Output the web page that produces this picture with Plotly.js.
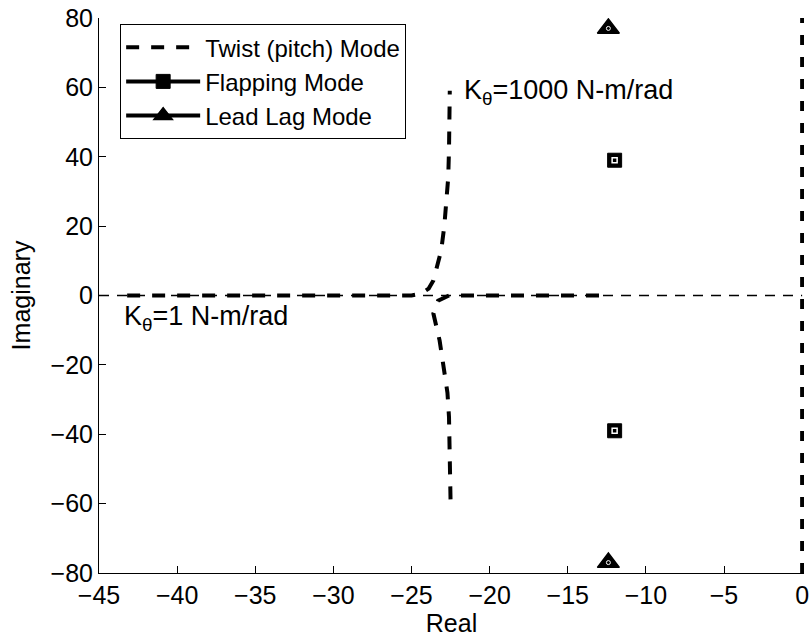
<!DOCTYPE html>
<html>
<head>
<meta charset="utf-8">
<script src="https://cdn.plot.ly/plotly-3.0.1.min.js"></script>
<style>html,body{margin:0;padding:0;background:#fff;}#plot{width:811px;height:639px;}</style>
</head>
<body>
<div id="plot"></div>
<script>
// Twist (pitch) mode root locus, branch starting on the left real axis and going up
const twistUpRe = [-43.2, -40, -35, -30, -27, -25, -24.4, -23.9, -23.6, -23.3, -23.1, -22.9, -22.75, -22.65, -22.6, -22.56, -22.55];
const twistUpIm = [0, 0, 0, 0, 0, 0, 0.5, 2, 4.3, 9, 13, 20, 27, 34, 42, 50, 59];
// branch coming along the real axis from the right and going down
const twistDnRe = [-13, -16, -19, -21, -22.6, -23.3, -23.6, -23.2, -22.95, -22.7, -22.6, -22.56, -22.5, -22.5];
const twistDnIm = [0, 0, 0, 0, 0, -1.5, -5.2, -13, -20.8, -28, -35, -42.7, -50.5, -59.2];
// Flapping mode poles
const flapRe = [-12.0, null, -12.0];
const flapIm = [39, null, -39];
// Lead lag mode poles
const lagRe = [-12.4, null, -12.4];
const lagIm = [77, null, -77];
// axis reference lines
const realAxisRe = [-45, 0];
const realAxisIm = [0, 0];
const imagAxisRe = [0, 0];
const imagAxisIm = [-80, 80];
// tick labels
const xTicks = [-45, -40, -35, -30, -25, -20, -15, -10, -5, 0];
const yTicks = [-80, -60, -40, -20, 0, 20, 40, 60, 80];

const FONT = 'Liberation Sans, Arial, Helvetica, sans-serif';
const DASH = '13px,12px';

const traces = [
  {x: realAxisRe, y: realAxisIm, mode: 'lines', line: {color: 'black', width: 1.5, dash: '10px,8px'}, showlegend: false, hoverinfo: 'skip'},
  {x: imagAxisRe, y: imagAxisIm, mode: 'lines', line: {color: 'black', width: 4, dash: '10px,12px'}, showlegend: false, hoverinfo: 'skip'},
  {x: twistUpRe, y: twistUpIm, mode: 'lines', name: 'Twist (pitch) Mode', line: {color: 'black', width: 4, dash: DASH}},
  {x: twistDnRe, y: twistDnIm, mode: 'lines', showlegend: false, line: {color: 'black', width: 4, dash: DASH}},
  {x: flapRe, y: flapIm, mode: 'lines+markers', name: 'Flapping Mode', connectgaps: false,
   line: {color: 'black', width: 4}, marker: {symbol: 'square', size: 14, color: 'black', line: {color: 'black', width: 1}}},
  {x: flapRe, y: flapIm, mode: 'markers', showlegend: false, hoverinfo: 'skip',
   marker: {symbol: 'square-open', size: 5, color: 'white', line: {color: 'white', width: 1.5}}},
  {x: lagRe, y: lagIm, mode: 'lines+markers', name: 'Lead Lag Mode', connectgaps: false,
   line: {color: 'black', width: 4}, marker: {symbol: 'triangle-up', size: 19, color: 'black', line: {color: 'black', width: 1.5}}},
  {x: lagRe, y: lagIm, mode: 'markers', showlegend: false, hoverinfo: 'skip',
   marker: {symbol: 'circle-open', size: 4, color: 'white', line: {color: 'white', width: 1}}}
];

const layout = {
  width: 811, height: 639,
  margin: {l: 99, r: 7, t: 18, b: 66},
  paper_bgcolor: 'white', plot_bgcolor: 'white',
  font: {family: FONT, size: 25, color: 'black'},
  showlegend: true,
  legend: {x: 0.03, y: 0.989, xanchor: 'left', yanchor: 'top', bgcolor: 'white', bordercolor: 'black', borderwidth: 1,
           font: {family: FONT, size: 24, color: 'black'}, tracegroupgap: 0, itemsizing: 'trace', itemwidth: 74},
  xaxis: {range: [-45, 0.12], tickvals: xTicks, ticks: 'inside', ticklen: 7, tickcolor: 'black',
          tickfont: {family: FONT, size: 25},
          showline: true, linecolor: 'black', linewidth: 1, showgrid: false, zeroline: false, mirror: false,
          title: {text: 'Real', font: {family: FONT, size: 25}, standoff: 2}},
  yaxis: {range: [-80, 80], tickvals: yTicks, ticks: 'inside', ticklen: 7, tickcolor: 'black',
          tickfont: {family: FONT, size: 25},
          showline: true, linecolor: 'black', linewidth: 1, showgrid: false, zeroline: false, mirror: false,
          title: {text: 'Imaginary', font: {family: FONT, size: 25}, standoff: 12}},
  annotations: [
    {x: -21.75, y: 58.6, xref: 'x', yref: 'y', xanchor: 'left', yanchor: 'middle', showarrow: false,
     text: 'K<sub>θ</sub>=1000 N-m/rad', font: {family: FONT, size: 27, color: 'black'}},
    {x: -43.5, y: -6.6, xref: 'x', yref: 'y', xanchor: 'left', yanchor: 'middle', showarrow: false,
     text: 'K<sub>θ</sub>=1 N-m/rad', font: {family: FONT, size: 27, color: 'black'}}
  ]
};

Plotly.newPlot('plot', traces, layout, {staticPlot: true, displayModeBar: false});
</script>
</body>
</html>
